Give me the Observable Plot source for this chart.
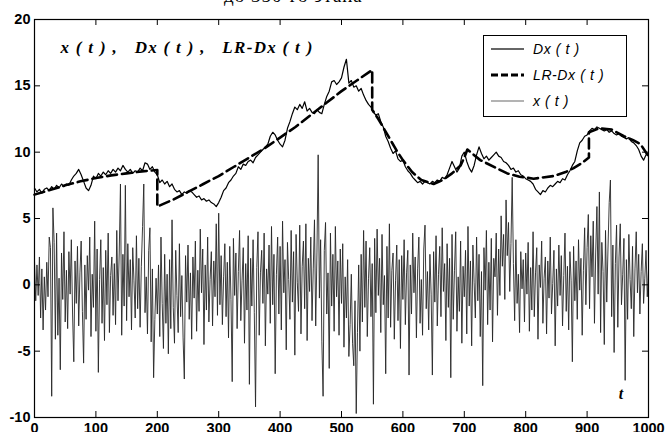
<!DOCTYPE html>
<html><head><meta charset="utf-8">
<script src="https://cdn.jsdelivr.net/npm/d3@7"></script>
<script src="https://cdn.jsdelivr.net/npm/@observablehq/plot@0.6"></script>
<style>
body{margin:0;background:#fff;}
#wrap{position:relative;width:665px;height:432px;overflow:hidden;}
#head{position:absolute;left:224px;top:-15px;font:19px "Liberation Serif",serif;color:#000;white-space:nowrap;letter-spacing:1px;}
#legend{position:absolute;left:483px;top:35px;width:142px;height:80px;border:1px solid #000;background:#fff;font:italic 14px "Liberation Sans",Arial,sans-serif;color:#000;letter-spacing:0.6px;}
.row{position:absolute;left:7px;height:16px;display:flex;align-items:center;white-space:pre;}
.row svg{width:33px;height:8px;margin-right:9px;}
svg [aria-label="text"] text{letter-spacing:1.3px;}
</style></head>
<body>
<div id="wrap">
<div id="head">до 350-го этапа</div>
<div id="chart"></div>
<div id="legend"></div>
</div>
<script>
// x(t): noise series, one value every 2 steps of t (t = 0..1000)
const xNoise = [
1.8,-1.2,1.5,-0.8,2.1,-2.5,1.2,-3.4,0.6,-1.9,1.7,-0.9,3.6,2.8,-8.4,5.8,3.2,-4.1,3.9,-3.8,0.5,-6.4,2.4,-1.1,4.0,
-2.8,1.1,-3.3,2.5,-0.7,3.4,-2.2,-5.8,1.8,-1.4,2.9,-3.1,0.9,3.3,-2.0,-5.9,1.5,-2.6,2.2,-0.4,3.6,-3.9,0.8,-1.7,4.8,
-3.5,2.7,-6.6,0.4,3.4,-2.9,1.3,-4.2,2.6,-1.5,3.9,-3.6,0.7,2.1,-2.3,1.6,-3.0,4.1,-1.2,2.4,7.6,-3.8,2.3,-1.6,7.5,
-2.7,3.1,-0.9,1.9,-3.4,2.8,0.3,-2.5,3.7,-1.8,2.0,-3.2,1.4,4.4,7.6,-2.1,0.6,-3.7,2.6,4.3,-4.3,1.2,-7.0,-2.6,0.5,
-2.2,1.5,-3.9,3.6,-1.4,-4.8,2.3,-2.9,0.8,-5.2,1.9,-3.3,4.9,-1.7,-4.4,2.6,-0.8,-3.6,3.1,-2.4,0.7,-4.0,-7.1,2.2,-1.3,
3.0,-2.6,0.9,-4.1,2.1,-1.0,3.3,-3.5,1.1,-2.0,4.2,-0.6,2.7,-4.5,1.5,-1.9,3.6,-2.8,0.4,2.5,-3.1,1.8,-0.9,4.6,-2.3,
5.4,-1.5,2.2,-3.0,0.6,3.1,-2.4,1.7,-4.0,2.9,-1.1,-7.3,3.5,-0.8,2.4,-3.3,1.0,4.1,-2.7,0.3,2.8,-4.4,1.6,-1.9,3.7,
-7.5,2.0,-1.6,3.4,-2.1,-9.2,1.3,4.0,-3.8,0.9,2.6,-1.4,3.9,-4.6,1.2,-0.7,3.0,-2.9,4.4,-1.5,2.3,-6.7,0.8,3.6,-2.2,
2.9,-3.4,4.8,-0.6,1.9,-4.9,3.2,0.4,-2.6,4.1,-1.3,2.5,-5.3,3.8,0.2,-2.0,4.5,-3.7,1.4,3.3,-1.8,4.6,-4.2,2.0,-0.5,
3.6,-2.7,1.2,4.9,-3.1,2.4,9.8,-1.0,3.4,-4.3,-8.4,2.6,4.7,-2.2,0.9,-6.3,3.9,-1.6,2.3,-3.5,4.4,-0.9,1.8,-3.8,2.7,
-1.4,3.1,-4.7,0.6,-2.5,1.9,-5.4,-3.0,0.8,-4.4,-6.1,-1.2,-9.7,-3.6,1.5,-5.0,2.3,-2.8,4.1,-1.7,3.3,-3.9,0.5,2.8,-2.4,
1.6,-9.0,3.5,-2.1,4.2,-0.8,2.0,-3.6,3.8,-1.5,0.7,-6.7,2.9,-2.5,4.6,-3.2,1.1,2.4,-4.1,0.3,3.0,-2.7,1.9,-4.8,2.2,
-1.1,3.4,-3.0,0.9,2.6,-6.8,1.5,-2.2,3.9,-0.6,2.1,-4.0,1.2,3.6,-2.9,0.4,-3.8,2.7,4.5,-1.8,1.0,-3.4,2.3,-0.7,-6.8,
2.5,-1.3,3.7,-3.1,0.8,2.9,-2.4,4.3,-0.5,1.6,-4.2,3.1,-1.7,2.0,-7.0,3.8,-2.6,1.1,4.0,-3.5,0.6,-2.0,3.3,-4.4,1.4,
-0.9,2.6,-3.7,4.4,-1.6,1.8,-4.6,3.0,0.2,-2.5,3.6,-1.2,2.3,-3.9,1.0,-7.6,2.8,-0.4,4.1,-3.0,1.7,-1.9,3.5,-4.3,2.0,
0.6,3.9,-2.3,2.7,-0.8,5.2,1.4,3.8,-1.1,6.4,2.2,4.7,-0.5,3.1,8.1,1.6,-2.7,3.4,-1.4,0.8,-3.6,2.5,-0.3,1.9,-2.8,
2.4,-0.7,3.2,-3.5,1.3,-1.9,4.0,-2.4,0.9,2.8,-4.1,1.5,-0.2,3.3,-2.9,0.5,2.1,-3.7,1.8,-1.0,3.6,-2.2,0.1,2.6,-4.6,
1.2,-1.6,3.0,-0.8,2.2,-3.1,0.7,3.9,-2.0,1.4,-3.4,2.5,0.3,-5.8,2.9,-1.2,1.8,-2.6,3.4,-0.4,2.0,-3.8,1.1,4.3,-1.5,
2.8,5.3,-1.8,3.7,0.6,4.8,-2.9,2.4,5.9,-0.7,7.0,-3.6,3.2,1.0,-4.5,4.1,-1.3,2.7,6.2,7.9,-2.4,3.0,-5.1,1.6,4.5,
-3.2,2.1,4.6,-1.5,0.8,3.5,-7.2,1.9,-2.6,3.8,0.4,-1.8,2.9,-3.9,1.2,4.0,-0.6,2.3,-2.2,1.0,3.1,-1.4,0.5,2.6,-0.9,1.1
];
const xStep = 2;

// Dx(t): one value every 4 steps of t (t = 0..1000)
const dxValues = [
7.3,7.0,7.2,6.9,7.2,7.3,7.1,7.4,7.2,7.5,7.3,7.6,7.4,7.6,7.5,7.9,8.2,8.4,8.7,8.3,7.8,7.3,7.1,7.5,8.2,
8.0,8.4,8.2,8.5,8.3,8.6,8.4,8.7,8.5,8.8,8.6,9.0,8.7,8.5,8.7,8.4,8.6,8.5,8.8,8.6,9.2,9.1,8.7,8.9,8.5,
8.3,7.7,7.9,7.6,7.8,7.4,7.6,7.2,7.0,7.1,6.8,7.0,6.9,7.1,7.0,6.8,6.6,6.7,6.4,6.5,6.3,6.4,6.2,6.1,5.9,
6.2,6.6,7.1,7.3,7.7,7.9,8.2,8.4,8.9,8.7,9.1,9.0,9.3,9.4,9.2,9.6,9.8,10.0,10.2,10.4,10.6,11.2,11.5,11.3,10.9,
10.6,10.4,10.9,11.8,12.3,12.9,13.4,13.2,13.6,13.3,13.8,13.1,13.3,13.0,12.9,13.2,13.0,12.9,13.6,14.2,14.6,15.3,15.4,15.1,15.3,
15.6,16.4,17.0,15.2,15.4,14.9,15.0,14.6,14.8,14.3,13.9,13.6,13.4,13.0,12.8,12.9,12.3,11.9,11.2,10.8,10.3,9.9,10.1,9.5,9.3,
9.4,8.9,8.6,8.4,8.1,7.9,7.7,7.8,7.6,7.8,7.7,7.6,7.8,7.7,7.9,7.8,8.1,8.0,8.3,8.8,9.3,8.9,8.5,8.8,9.7,
10.0,9.3,8.8,8.5,9.0,9.8,10.4,9.9,9.5,9.7,9.4,9.6,9.8,10.0,9.7,9.6,9.3,9.2,9.0,8.7,8.8,8.5,8.6,8.3,8.2,
8.0,7.9,7.8,7.6,7.2,7.0,6.8,7.1,7.0,7.3,7.5,7.4,7.6,7.8,7.7,8.0,7.9,8.3,8.6,9.0,9.3,10.1,10.7,10.9,11.2,
11.3,11.6,11.8,11.7,11.9,11.8,11.7,11.6,11.7,11.5,11.6,11.4,11.3,11.4,11.2,11.1,11.0,11.1,10.8,10.7,10.5,10.2,9.7,9.4,9.8
];
const dxStep = 4;

// LR-Dx(t): piecewise regression curve (t, value)
const lrT = [0,25,50,75,100,125,150,175,200, 200,225,250,275,300,325,350,375,400,425,450,475,500,525,550,
  550,560,575,590,600,615,630,650,665,680,694,700,705, 726,750,770,790,813,845,865,878,892,903, 903,920,940,960,975,987,1000];
const lrV = [6.8,7.15,7.5,7.8,8.05,8.25,8.4,8.55,8.65, 5.9,6.4,7.0,7.6,8.2,8.9,9.6,10.3,11.1,11.9,12.8,13.7,14.6,15.4,16.2,
  13.2,12.5,11.3,10.1,9.4,8.5,7.9,7.6,7.9,8.4,9.0,9.6,10.2, 9.4,8.85,8.4,8.15,8.0,8.2,8.5,8.8,9.2,9.6, 11.5,11.8,11.7,11.2,10.9,10.6,9.7];

const xTicks = [0,100,200,300,400,500,600,700,800,900,1000];
const yTicks = [-10,-5,0,5,10,15,20];
const xInnerTicks = [100,200,300,400,500,600,700,800,900];
const yInnerTicks = [-5,0,5,10,15];
const titleText = "x ( t ) ,   Dx ( t ) ,   LR-Dx ( t )";
const axisName = "t";
const legendItems = [
  {label: "Dx ( t )", stroke: "#333", width: 1.3, dash: null},
  {label: "LR-Dx ( t )", stroke: "#000", width: 2.8, dash: "7,3"},
  {label: "x ( t )", stroke: "#9a9a9a", width: 1.3, dash: null}
];

const W = 665, H = 432, ML = 34, MR = 17, MT = 19, MB = 15;
const innerH = H - MT - MB, innerW = W - ML - MR;

const noise = xNoise.map((v, i) => ({t: i * xStep, v}));
const dx = dxValues.map((v, i) => ({t: i * dxStep, v}));
const lr = lrT.map((t, i) => ({t, v: lrV[i]}));

const chart = Plot.plot({
  width: W, height: H,
  marginLeft: ML, marginRight: MR, marginTop: MT, marginBottom: MB,
  style: {fontFamily: '"Liberation Sans", Arial, sans-serif', fontSize: "14.5px", fontWeight: "bold", color: "#000", background: "#fff", overflow: "visible"},
  x: {domain: [0, 1000]},
  y: {domain: [-10, 20]},
  marks: [
    Plot.line(noise, {x: "t", y: "v", stroke: "#262626", strokeWidth: 0.9}),
    Plot.line(dx, {x: "t", y: "v", stroke: "#000", strokeWidth: 1.2}),
    Plot.line(lr, {x: "t", y: "v", stroke: "#000", strokeWidth: 2.6, strokeDasharray: "10,5"}),
    Plot.frame({stroke: "#000", strokeWidth: 1.2}),
    Plot.axisX(xTicks, {tickSize: 0, tickPadding: 5, label: null, tickFormat: d => String(d)}),
    Plot.axisY(yTicks, {tickSize: 0, tickPadding: 4, label: null, tickFormat: d => String(d)}),
    Plot.tickX(xInnerTicks, {x: d => d, insetTop: innerH - 6, stroke: "#000"}),
    Plot.tickX(xInnerTicks, {x: d => d, insetBottom: innerH - 6, stroke: "#000"}),
    Plot.tickY(yInnerTicks, {y: d => d, insetRight: innerW - 6, stroke: "#000"}),
    Plot.tickY(yInnerTicks, {y: d => d, insetLeft: innerW - 6, stroke: "#000"}),
    Plot.text([titleText.replace(/ /g, "\u00a0")], {text: d => d, frameAnchor: "top-left", dx: 26, dy: 21, textAnchor: "start",
      fontFamily: '"Liberation Serif", "Times New Roman", serif', fontStyle: "italic", fontWeight: "bold", fontSize: 17, fill: "#000"}),
    Plot.text([axisName], {text: d => d, frameAnchor: "bottom-right", dx: -24, dy: -19,
      fontFamily: '"Liberation Serif", "Times New Roman", serif', fontStyle: "italic", fontWeight: "bold", fontSize: 16, fill: "#000"})
  ]
});
document.getElementById("chart").appendChild(chart);

const legend = document.getElementById("legend");
legendItems.forEach((it, i) => {
  const row = document.createElement("div");
  row.className = "row";
  row.style.top = (5 + i * 26) + "px";
  row.innerHTML = `<svg viewBox="0 0 33 8"><line x1="0" y1="4" x2="33" y2="4" stroke="${it.stroke}" stroke-width="${it.width}" ${it.dash ? `stroke-dasharray="${it.dash}"` : ""}/></svg><span>${it.label}</span>`;
  legend.appendChild(row);
});
</script>
</body></html>
